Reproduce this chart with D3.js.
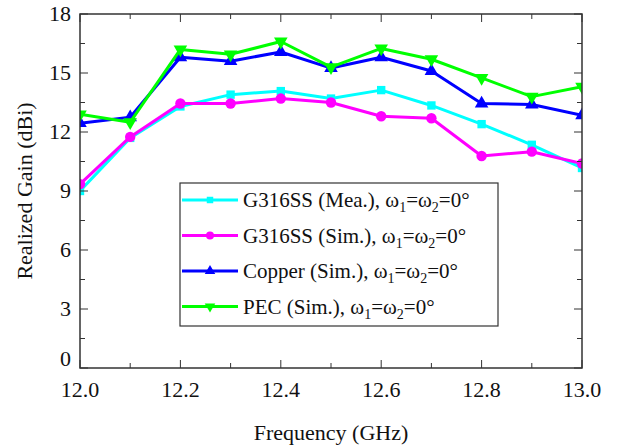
<!DOCTYPE html>
<html><head><meta charset="utf-8">
<script src="https://cdn.jsdelivr.net/npm/d3@7"></script>
<style>
body{margin:0}
svg text, svg tspan{font-family:"Liberation Serif" !important;}
</style>
</head><body>
<svg id="c" width="625" height="447" font-family="Liberation Serif"></svg>
<script>
const freq = [12.0,12.1,12.2,12.3,12.4,12.5,12.6,12.7,12.8,12.9,13.0];
const meaG316 = [9.0,11.7,13.3,13.9,14.08,13.7,14.13,13.35,12.4,11.35,10.17];
const simG316 = [9.35,11.75,13.45,13.45,13.7,13.5,12.8,12.7,10.78,11.0,10.4];
const copper = [12.45,12.75,15.8,15.6,16.07,15.25,15.8,15.1,13.45,13.4,12.85];
const pec = [12.9,12.5,16.2,15.95,16.6,15.3,16.25,15.7,14.75,13.8,14.3];
const seriesNames = ["G316SS (Mea.), ","G316SS (Sim.), ","Copper (Sim.), ","PEC (Sim.), "];
const xTicks = [12.0,12.2,12.4,12.6,12.8,13.0];
const yTicks = [0,3,6,9,12,15,18];

const series = [
  {name:seriesNames[0], vals:meaG316, color:"#00ffff", sym:d3.symbolSquare, size:70, rot:0},
  {name:seriesNames[1], vals:simG316, color:"#ff00ff", sym:d3.symbolCircle, size:85, rot:0},
  {name:seriesNames[2], vals:copper, color:"#0000ff", sym:d3.symbolTriangle, size:80, rot:0},
  {name:seriesNames[3], vals:pec, color:"#00ff00", sym:d3.symbolTriangle, size:80, rot:180}
];

const FF = "Liberation Serif";
const svg = d3.select("#c");
const L=80,R=582,T=14,B=368;
const x = d3.scaleLinear().domain([12,13]).range([L,R]);
const y = d3.scaleLinear().domain([0,18]).range([B,T]);

svg.append("defs").append("clipPath").attr("id","pc").append("rect")
  .attr("x",L).attr("y",T).attr("width",R-L).attr("height",B-T);

const g = svg.append("g").attr("clip-path","url(#pc)");
const line = d3.line().x((d,i)=>x(freq[i])).y(d=>y(d));
series.forEach(s=>{
  g.append("path").attr("d",line(s.vals)).attr("fill","none").attr("stroke",s.color).attr("stroke-width",3).attr("stroke-linejoin","round");
  g.selectAll(null).data(s.vals).enter().append("path")
    .attr("d",d3.symbol().type(s.sym).size(s.size))
    .attr("transform",(d,i)=>`translate(${x(freq[i])},${y(d)}) rotate(${s.rot})`)
    .attr("fill",s.color);
});

const ax = svg.append("g");
ax.append("rect").attr("x",L).attr("y",T).attr("width",R-L).attr("height",B-T).attr("fill","none").attr("stroke","#333").attr("stroke-width",1.5);
const xMinor = d3.range(0,11).map(i=>12+i*0.1);
xMinor.forEach((v,i)=>{
  const len = i%2===0?8:5;
  ax.append("line").attr("x1",x(v)).attr("x2",x(v)).attr("y1",B).attr("y2",B-len).attr("stroke","#333").attr("stroke-width",1);
  ax.append("line").attr("x1",x(v)).attr("x2",x(v)).attr("y1",T).attr("y2",T+len).attr("stroke","#333").attr("stroke-width",1);
});
const yMinor = d3.range(0,13).map(i=>i*1.5);
yMinor.forEach((v,i)=>{
  const len = i%2===0?8:5;
  ax.append("line").attr("x1",L).attr("x2",L+len).attr("y1",y(v)).attr("y2",y(v)).attr("stroke","#333").attr("stroke-width",1);
  ax.append("line").attr("x1",R).attr("x2",R-len).attr("y1",y(v)).attr("y2",y(v)).attr("stroke","#333").attr("stroke-width",1);
});
function txt(sel){ return sel.append("text").attr("font-family",FF).style("font-family",FF).attr("fill","#111"); }
xTicks.forEach(v=>{
  txt(ax).attr("x",x(v)).attr("y",397).attr("text-anchor","middle").attr("font-size",22).text(v.toFixed(1));
});
yTicks.forEach(v=>{
  txt(ax).attr("x",71).attr("y",y(v)+(v===0?-2:7)).attr("text-anchor","end").attr("font-size",22).text(v);
});
txt(svg).attr("x",331).attr("y",440).attr("text-anchor","middle").attr("font-size",22).text("Frequency (GHz)");
txt(svg).attr("transform","translate(32,191) rotate(-90)").attr("text-anchor","middle").attr("font-size",22).text("Realized Gain (dBi)");

const lg = svg.append("g");
lg.append("rect").attr("x",180).attr("y",183).attr("width",318).attr("height",143).attr("fill","#fff").attr("stroke","#333").attr("stroke-width",1.2);
series.forEach((s,i)=>{
  const yy = 200+i*35.5;
  lg.append("line").attr("x1",182).attr("x2",238).attr("y1",yy).attr("y2",yy).attr("stroke",s.color).attr("stroke-width",3);
  lg.append("path").attr("d",d3.symbol().type(s.sym).size(s.size*0.6)).attr("transform",`translate(210,${yy}) rotate(${s.rot})`).attr("fill",s.color);
  const t = txt(lg).attr("x",243).attr("y",yy+7).attr("font-size",21);
  t.append("tspan").text(s.name+"ω");
  t.append("tspan").attr("dy",5).attr("font-size",14).text("1");
  t.append("tspan").attr("dy",-5).text("=ω");
  t.append("tspan").attr("dy",5).attr("font-size",14).text("2");
  t.append("tspan").attr("dy",-5).text("=0°");
});
</script></body></html>
